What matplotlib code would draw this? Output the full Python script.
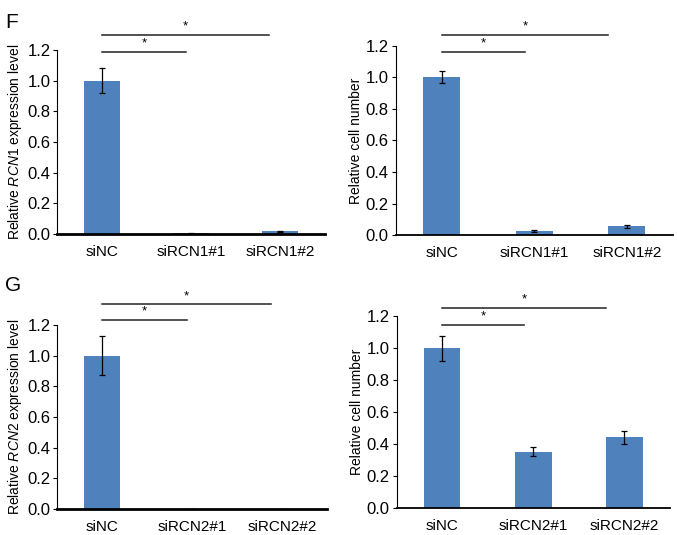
import matplotlib
matplotlib.use("Agg")
import matplotlib.pyplot as plt

plt.rcParams['font.family'] = ['Liberation Sans', 'DejaVu Sans']
plt.rcParams['mathtext.fontset'] = 'custom'
plt.rcParams['mathtext.rm'] = 'Liberation Sans'
plt.rcParams['mathtext.it'] = 'Liberation Sans:italic'

# data
labels_rcn1 = ["siNC", "siRCN1#1", "siRCN1#2"]
labels_rcn2 = ["siNC", "siRCN2#1", "siRCN2#2"]

rcn1_expr = [1.0, 0.005, 0.018]
rcn1_expr_err = [0.083, 0.002, 0.004]
rcn1_cells = [1.0, 0.028, 0.056]
rcn1_cells_err = [0.037, 0.005, 0.01]

rcn2_expr = [1.0, 0.002, 0.0]
rcn2_expr_err = [0.127, 0.0, 0.0]
rcn2_cells = [1.0, 0.35, 0.44]
rcn2_cells_err = [0.078, 0.028, 0.038]

# significance bars: (end position, height) for short and long line
sig_F_left = [(0.94, 1.19), (1.88, 1.30)]
sig_F_right = [(0.9, 1.16), (1.8, 1.27)]
sig_G_left = [(0.94, 1.235), (1.88, 1.335)]
sig_G_right = [(0.9, 1.145), (1.8, 1.25)]

bar_color = "#4F81BD"

fig = plt.figure(figsize=(6.77, 5.35), dpi=100)


def draw_panel(rect, labels, vals, errs, sigs, ylabel, thick):
    ax = fig.add_axes(rect)
    x = range(len(labels))
    ax.bar(x, vals, width=0.4, color=bar_color, zorder=2)
    ax.errorbar(x, vals, yerr=errs, fmt='none', ecolor='black', elinewidth=0.9,
                capsize=2.5, capthick=0.9, zorder=3)
    ax.set_xlim(-0.5, 2.5)
    ax.set_ylim(0, 1.2)
    ax.set_yticks([0, 0.2, 0.4, 0.6, 0.8, 1.0, 1.2])
    ax.set_yticklabels(["%.1f" % v for v in [0, 0.2, 0.4, 0.6, 0.8, 1.0, 1.2]])
    ax.set_xticks(list(x))
    ax.set_xticklabels(labels)
    ax.tick_params(axis='x', length=0, pad=8, labelsize=11)
    ax.tick_params(axis='y', length=3, width=0.8, pad=2, labelsize=12)
    ax.spines['top'].set_visible(False)
    ax.spines['right'].set_visible(False)
    ax.spines['left'].set_linewidth(0.8)
    ax.spines['bottom'].set_linewidth(2.0 if thick else 1.3)
    ax.spines['bottom'].set_zorder(4)
    ax.set_ylabel(ylabel, fontsize=10, labelpad=2)
    for end, h in sigs:
        ax.plot([0.0, end], [h, h], color='#222222', lw=1.1, clip_on=False)
        ax.text(end / 2.0, h + 0.015, "*", ha='center', va='bottom',
                fontsize=9.5)
    return ax


draw_panel([0.0847, 0.5626, 0.395, 0.344], labels_rcn1, rcn1_expr, rcn1_expr_err,
           sig_F_left, "Relative $\\mathit{RCN1}$ expression level", True)
draw_panel([0.5845, 0.5602, 0.4096, 0.3544], labels_rcn1, rcn1_cells, rcn1_cells_err,
           sig_F_right, "Relative cell number", False)
draw_panel([0.0847, 0.0486, 0.398, 0.344], labels_rcn2, rcn2_expr, rcn2_expr_err,
           sig_G_left, "Relative $\\mathit{RCN2}$ expression level", True)
draw_panel([0.586, 0.051, 0.4037, 0.358], labels_rcn2, rcn2_cells, rcn2_cells_err,
           sig_G_right, "Relative cell number", False)

fig.text(0.008, 0.975, "F", fontsize=15, va='top')
fig.text(0.008, 0.485, "G", fontsize=15, va='top')

fig.savefig("out.png", dpi=100)
